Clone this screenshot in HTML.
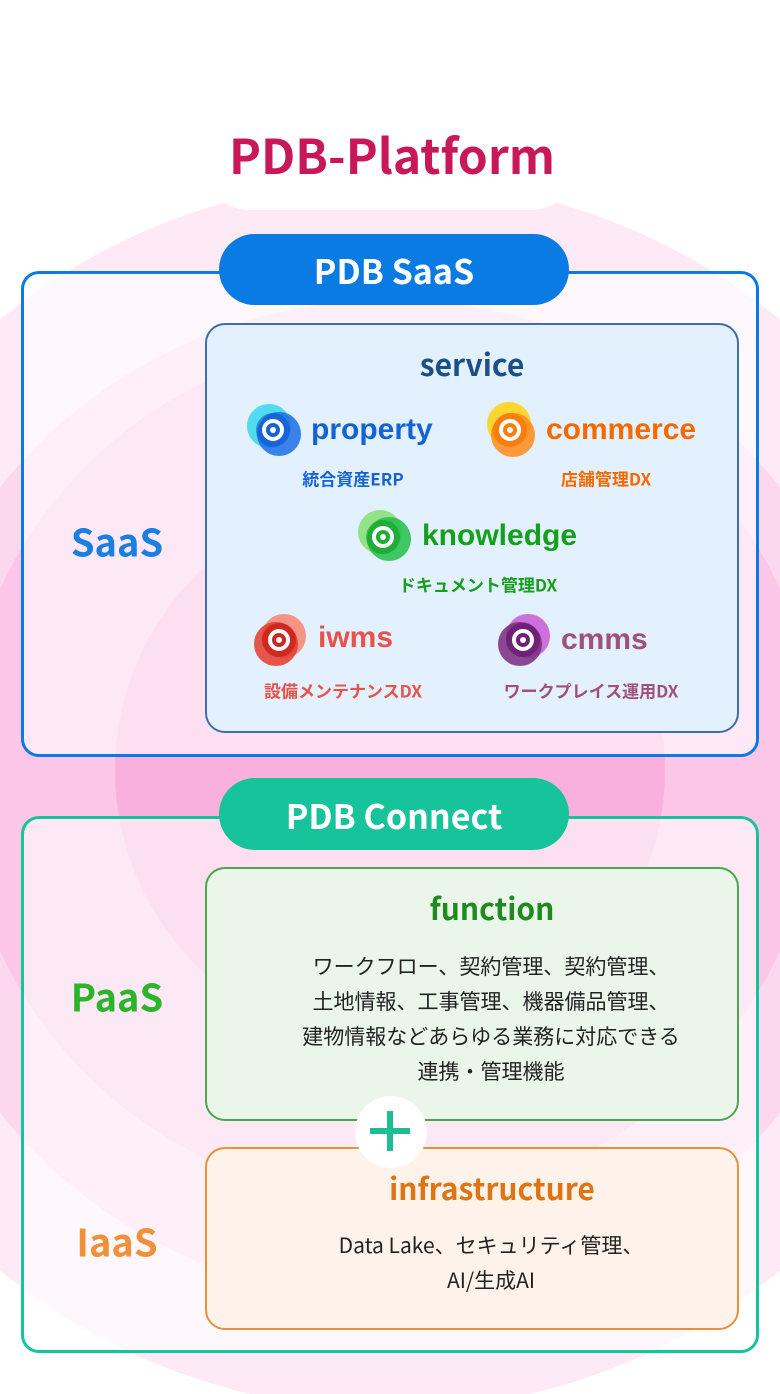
<!DOCTYPE html>
<html><head><meta charset="utf-8"><style>
*{margin:0;padding:0;box-sizing:border-box}
html,body{width:780px;height:1394px;overflow:hidden}
body{position:relative;background:#fff;font-family:"Noto Sans CJK JP","Liberation Sans",sans-serif}
.a{position:absolute}
.c{position:absolute;border-radius:50%}
.t{position:absolute;white-space:nowrap;font-weight:bold;transform:translate(-50%,-50%)}
.box{position:absolute;border-radius:20px}
.pill{position:absolute;border-radius:36px;color:#fff;font-weight:bold;font-size:34px;display:flex;align-items:center;justify-content:center}
.ic{position:absolute;width:58px;height:58px}
.lt{position:absolute;font-weight:bold;font-size:30px;transform:translateY(-50%);white-space:nowrap;font-family:"Liberation Sans",sans-serif}
.sub{font-size:17px}
.jp{font-weight:normal;font-size:21px;color:#222;line-height:35px;text-align:center}
</style></head><body>
<div class="c" style="left:-225px;top:180px;width:1230px;height:1230px;background:#fdeaf6"></div>
<div class="c" style="left:-110px;top:300px;width:1000px;height:1000px;background:#fcd8ee"></div>
<div class="c" style="left:-40px;top:340px;width:860px;height:860px;background:#fbc6e7"></div>
<div class="c" style="left:115px;top:495px;width:550px;height:550px;background:#f9b0df"></div>
<div class="a" style="left:200px;top:80px;width:380px;height:130px;background:#fff;border-radius:0 0 50px 50px"></div>
<div class="t" style="left:392px;top:153px;font-size:48px;color:#c8185a">PDB-Platform</div>

<div class="box" style="left:21px;top:271px;width:738px;height:486px;border:3px solid #0a7be3;background:rgba(255,255,255,0.6);border-radius:18px"></div>
<div class="pill" style="left:219px;top:234px;width:350px;height:71px;background:#0a7be3">PDB SaaS</div>
<div class="t" style="left:117px;top:540px;font-size:38px;color:#1a7fe0">SaaS</div>
<div class="box" style="left:205px;top:323px;width:534px;height:410px;background:#e3f0fd;border:2px solid #3f6fa6"></div>
<div class="t" style="left:472px;top:363px;font-size:30px;color:#1a4f8a">service</div>

<svg class="ic" style="left:245px;top:401px" viewBox="0 0 58 58"><circle cx="24" cy="25" r="22" fill="#3fd8f0" opacity=".9"/><circle cx="34" cy="33" r="22" fill="#1a6ee6" opacity=".85"/><circle cx="28" cy="29" r="17" fill="#0d4fc8" opacity=".55"/><circle cx="28" cy="29" r="9" fill="none" stroke="#fff" stroke-width="4"/><circle cx="28" cy="29" r="3" fill="#fff"/></svg>
<div class="lt" style="left:311px;top:430px;color:#1463d4">property</div>
<div class="t sub" style="left:353px;top:478px;color:#1463d4">統合資産ERP</div>

<svg class="ic" style="left:482px;top:401px" viewBox="0 0 58 58"><circle cx="27" cy="23" r="22" fill="#ffd21a" opacity=".9"/><circle cx="31" cy="34" r="22" fill="#ff8a1a" opacity=".85"/><circle cx="28" cy="29" r="17" fill="#f06a00" opacity=".5"/><circle cx="28" cy="29" r="9" fill="none" stroke="#fff" stroke-width="4"/><circle cx="28" cy="29" r="3" fill="#fff"/></svg>
<div class="lt" style="left:546px;top:430px;color:#f56a00">commerce</div>
<div class="t sub" style="left:606px;top:478px;color:#f56a00">店舗管理DX</div>

<svg class="ic" style="left:355px;top:508px" viewBox="0 0 58 58"><circle cx="25" cy="24" r="22" fill="#8be07a" opacity=".9"/><circle cx="34" cy="31" r="22" fill="#22c04a" opacity=".85"/><circle cx="28" cy="29" r="17" fill="#0c9a20" opacity=".55"/><circle cx="28" cy="29" r="9" fill="none" stroke="#fff" stroke-width="4"/><circle cx="28" cy="29" r="3" fill="#fff"/></svg>
<div class="lt" style="left:422px;top:536px;color:#14a01c">knowledge</div>
<div class="t sub" style="left:478px;top:584px;color:#14a01c">ドキュメント管理DX</div>

<svg class="ic" style="left:251px;top:611px" viewBox="0 0 58 58"><circle cx="33" cy="25" r="22" fill="#f48a78" opacity=".9"/><circle cx="25" cy="33" r="22" fill="#e53a2a" opacity=".85"/><circle cx="28" cy="29" r="17" fill="#b80f0f" opacity=".55"/><circle cx="28" cy="29" r="9" fill="none" stroke="#fff" stroke-width="4"/><circle cx="28" cy="29" r="3" fill="#fff"/></svg>
<div class="lt" style="left:318px;top:638px;color:#e8524a">iwms</div>
<div class="t sub" style="left:343px;top:690px;color:#e8524a">設備メンテナンスDX</div>

<svg class="ic" style="left:495px;top:611px" viewBox="0 0 58 58"><circle cx="33" cy="25" r="22" fill="#c962d8" opacity=".9"/><circle cx="25" cy="33" r="22" fill="#7a2a80" opacity=".85"/><circle cx="28" cy="29" r="17" fill="#5a1060" opacity=".55"/><circle cx="28" cy="29" r="9" fill="none" stroke="#fff" stroke-width="4"/><circle cx="28" cy="29" r="3" fill="#fff"/></svg>
<div class="lt" style="left:561px;top:640px;color:#a0507f">cmms</div>
<div class="t sub" style="left:591px;top:690px;color:#a0507f">ワークプレイス運用DX</div>

<div class="box" style="left:21px;top:816px;width:738px;height:537px;border:3px solid #16c39a;background:rgba(255,255,255,0.6);border-radius:18px"></div>
<div class="pill" style="left:219px;top:778px;width:350px;height:72px;background:#16c39a">PDB Connect</div>
<div class="t" style="left:117px;top:995px;font-size:38px;color:#2bb52a">PaaS</div>
<div class="t" style="left:117px;top:1240px;font-size:38px;color:#f0903a">IaaS</div>

<div class="box" style="left:205px;top:867px;width:534px;height:254px;background:#ebf6ea;border:2px solid #4aa84a"></div>
<div class="t" style="left:492px;top:907px;font-size:30px;color:#1f8a1f">function</div>
<div class="t jp" style="left:491px;top:1019px">ワークフロー、契約管理、契約管理、<br>土地情報、工事管理、機器備品管理、<br>建物情報などあらゆる業務に対応できる<br>連携・管理機能</div>

<div class="box" style="left:205px;top:1147px;width:534px;height:183px;background:#fdf3ea;border:2px solid #e8913c"></div>
<div class="t" style="left:492px;top:1187px;font-size:30px;color:#de7412">infrastructure</div>
<div class="t jp" style="left:491px;top:1263px">Data Lake、セキュリティ管理、<br>AI/生成AI</div>

<div class="c" style="left:355px;top:1096px;width:72px;height:72px;background:#fff"></div>
<div class="a" style="left:370px;top:1128px;width:40px;height:6px;background:#1dbf92"></div>
<div class="a" style="left:387px;top:1111px;width:6px;height:40px;background:#1dbf92"></div>
</body></html>
